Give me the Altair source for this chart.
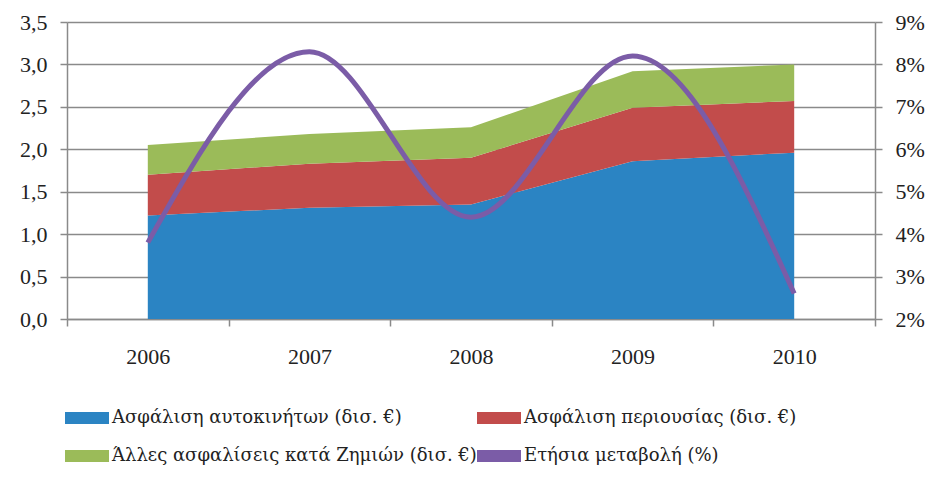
import altair as alt
import pandas as pd

# ---- data ----
years = [2006, 2007, 2008, 2009, 2010]
auto_ins = [1.22, 1.31, 1.35, 1.86, 1.96]          # Ασφάλιση αυτοκινήτων
property_ins = [0.48, 0.52, 0.55, 0.63, 0.61]      # Ασφάλιση περιουσίας
other_ins = [0.35, 0.35, 0.36, 0.43, 0.43]         # Άλλες ασφαλίσεις
annual_change = [3.8, 8.3, 4.4, 8.2, 2.6]          # Ετήσια μεταβολή (%)

series_names = [
    "Ασφάλιση αυτοκινήτων (δισ. €)",
    "Ασφάλιση περιουσίας (δισ. €)",
    "Άλλες ασφαλίσεις κατά Ζημιών (δισ. €)",
    "Ετήσια μεταβολή (%)",
]
colors = ["#2B84C3", "#C24C4B", "#9BBB59", "#7B5CA7"]

left_ticks = [0, 0.5, 1, 1.5, 2, 2.5, 3, 3.5]
right_ticks = [2, 3, 4, 5, 6, 7, 8, 9]
x_ticks = [2005.5, 2006, 2006.5, 2007, 2007.5, 2008, 2008.5, 2009, 2009.5, 2010, 2010.5]

rows = []
for i, yr in enumerate(years):
    for k, vals in enumerate([auto_ins, property_ins, other_ins]):
        rows.append({"year": yr, "series": series_names[k], "ord": k, "value": vals[i]})
area_df = pd.DataFrame(rows)
line_df = pd.DataFrame({"year": years, "change": annual_change})

FONT = "Liberation Serif"
LEGEND_FONT = "DejaVu Serif"
GRAY = "#8a8a8a"
TXT = "#222222"

x_scale = alt.Scale(domain=[2005.5, 2010.5], nice=False, zero=False)
x_axis = alt.Axis(
    values=x_ticks,
    labelExpr="datum.value % 1 == 0 ? format(datum.value, 'd') : ''",
    tickOpacity={"condition": {"test": "datum.value % 1 == 0", "value": 0}, "value": 1},
    grid=False,
    title=None,
    domainColor=GRAY,
    domainWidth=1.5,
    tickColor=GRAY,
    tickWidth=1.5,
    tickSize=7,
    labelPadding=20,
    labelFont=FONT,
    labelFontSize=22,
    labelColor=TXT,
    labelOverlap=False,
)

areas = alt.Chart(area_df).mark_area(interpolate="linear").encode(
    x=alt.X("year:Q", scale=x_scale, axis=x_axis),
    y=alt.Y(
        "value:Q",
        stack="zero",
        scale=alt.Scale(domain=[0, 3.5], nice=False),
        axis=alt.Axis(
            values=left_ticks,
            labelExpr="replace(format(datum.value, '.1f'), '.', ',')",
            title=None,
            grid=True,
            gridColor=GRAY,
            gridWidth=1.5,
            domainColor=GRAY,
            domainWidth=1.5,
            tickColor=GRAY,
            tickWidth=1.5,
            tickSize=7,
            labelPadding=13,
            labelFont=FONT,
            labelFontSize=22,
            labelColor=TXT,
        ),
    ),
    color=alt.Color(
        "series:N",
        scale=alt.Scale(domain=series_names, range=colors),
        sort=series_names,
        legend=alt.Legend(
            orient="none",
            direction="horizontal",
            legendX=9,
            legendY=385,
            columns=2,
            title=None,
            labelFont=LEGEND_FONT,
            labelFontSize=18,
            labelColor=TXT,
            labelLimit=1000,
            symbolType="M-2,-0.55H2V0.55H-2Z",
            symbolSize=484,
            symbolStrokeWidth=0,
            symbolOpacity=1,
            columnPadding=0,
            rowPadding=18,
            labelOffset=14,
        ),
    ),
    order=alt.Order("ord:Q"),
)

line = alt.Chart(line_df).mark_line(
    interpolate="monotone", strokeWidth=5, color=colors[3]
).encode(
    x=alt.X("year:Q", scale=x_scale),
    y=alt.Y(
        "change:Q",
        scale=alt.Scale(domain=[2, 9], nice=False, zero=False),
        axis=alt.Axis(
            orient="right",
            values=right_ticks,
            labelExpr="format(datum.value, 'd') + '%'",
            title=None,
            grid=False,
            domainColor=GRAY,
            domainWidth=1.5,
            tickColor=GRAY,
            tickWidth=1.5,
            tickSize=7,
            labelPadding=13,
            labelFont=FONT,
            labelFontSize=22,
            labelColor=TXT,
        ),
    ),
)

chart = (
    alt.layer(areas, line)
    .resolve_scale(y="independent")
    .properties(
        width=808,
        height=297,
        autosize=alt.AutoSizeParams(type="none"),
        padding={"left": 59, "top": 14, "right": 61, "bottom": 150},
        background="white",
    )
    .configure_view(stroke=None)
)

chart.save("out.html", embed_options={"renderer": "svg", "actions": False})
